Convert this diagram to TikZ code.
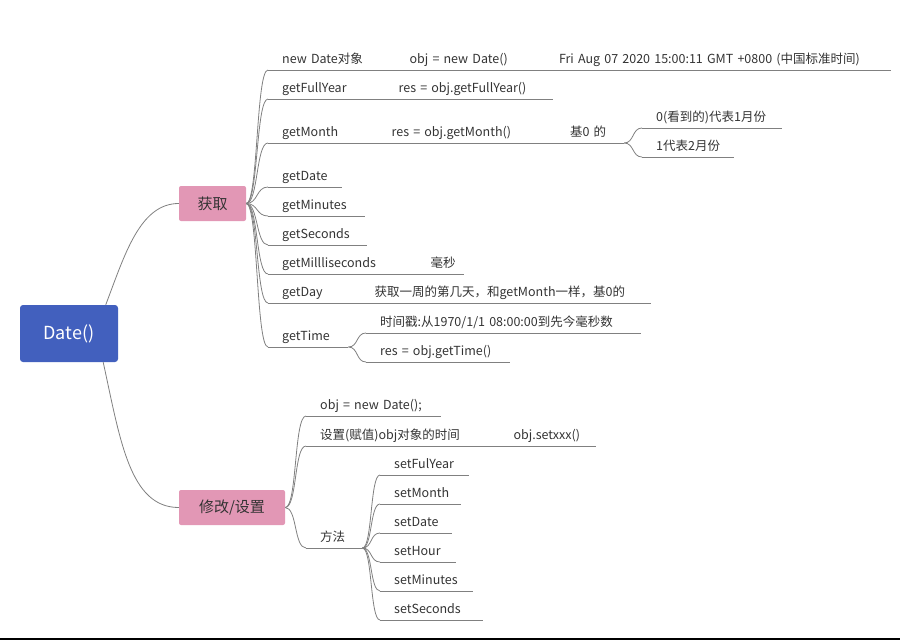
\documentclass[tikz,border=0pt]{standalone}
\usepackage{fontspec}
\setmainfont{Noto Sans CJK SC}
\definecolor{dateblue}{RGB}{66,96,190}
\definecolor{tagpink}{RGB}{226,151,181}
\definecolor{linegray}{RGB}{128,128,128}
\definecolor{txtgray}{RGB}{51,51,51}
\hyphenpenalty=10000

\begin{document}
\begin{tikzpicture}[x=1pt, y=-1pt,
    line/.style={draw=linegray, line width=0.8pt},
    topic/.style={anchor=south west, inner xsep=14pt, inner ysep=3pt, text height=9pt, text depth=3pt,
        align=left, text=txtgray, font=\fontsize{12.5}{14}\selectfont},
    tagbox/.style={fill=tagpink, rounded corners=2pt, text=txtgray, font=\fontsize{15}{18}\selectfont,
        minimum height=35pt, inner sep=0pt}]
    \useasboundingbox (0,0) rectangle (900,640);

    \node[fill=dateblue, rounded corners=3pt, text=white, font=\fontsize{18}{22}\selectfont,
        minimum width=98pt, minimum height=57pt, inner sep=0pt] (date) at (69,333.5) {Date()};
    \node[tagbox, minimum width=67pt] (huoqu) at (212.5,203.5) {获取};
    \node[tagbox, minimum width=106pt] (xg) at (232,507.5) {修改/设置};

    \draw[line] (date.38) .. controls +(19,-50) and +(-39,0) .. (huoqu.west);
    \draw[line] (date.-40) .. controls +(17,78) and +(-49,0) .. (xg.west);

    \node[topic, text width=99pt] (nd) at (268,70) {new Date对象};
    \node[topic, text width=121pt] (ndobj) at (nd.south east) {obj = new Date()};
    \node[topic, text width=318pt] (ndstr) at (ndobj.south east) {Fri Aug 07 2020 15:00:11 GMT +0800 (中国标准时间)};
    \node[topic, text width=88pt] (gfy) at (268,99) {getFullYear};
    \node[topic, text width=140pt] (gfyres) at (gfy.south east) {res = obj.getFullYear()};
    \node[topic, text width=81pt] (gm) at (268,143) {getMonth};
    \node[topic, text width=150pt] (gmres) at (gm.south east) {res = obj.getMonth()};
    \node[topic, text width=40pt] (gmj) at (gmres.south east) {基0 的};
    \node[topic, text width=112pt] (m0) at (642,128) {0(看到的)代表1月份};
    \node[topic, text width=64pt] (m1) at (642,157) {1代表2月份};
    \node[topic, text width=46pt] (gdt) at (268,187) {getDate};
    \node[topic, text width=69pt] (gmin) at (268,216) {getMinutes};
    \node[topic, text width=71pt] (gsec) at (268,245) {getSeconds};
    \node[topic, text width=120pt] (gms) at (268,274) {getMillliseconds};
    \node[topic, text width=19pt] (gmsh) at (gms.south east) {毫秒};
    \node[topic, text width=64pt] (gday) at (268,303) {getDay};
    \node[topic, text width=262pt] (gdayh) at (gday.south east) {获取一周的第几天，和getMonth一样，基0的};
    \node[topic, text width=52pt] (gtime) at (268,347) {getTime};
    \node[topic, text width=247pt] (t0) at (366,333) {时间戳:从1970/1/1 08:00:00到先今毫秒数};
    \node[topic, text width=116pt] (t1) at (366,362) {res = obj.getTime()};

    \node[topic, text width=107pt] (sa) at (306,416) {obj = new Date();};
    \node[topic, text width=165pt] (sb) at (306,446) {设置(赋值)obj对象的时间};
    \node[topic, text width=68pt] (sbx) at (sb.south east) {obj.setxxx()};
    \node[topic, text width=28pt] (sc) at (306,548) {方法};
    \node[topic, text width=61pt] (s1) at (380,475) {setFulYear};
    \node[topic, text width=53pt] (s2) at (380,504) {setMonth};
    \node[topic, text width=44pt] (s3) at (380,533) {setDate};
    \node[topic, text width=48pt] (s4) at (380,562) {setHour};
    \node[topic, text width=65pt] (s5) at (380,591) {setMinutes};
    \node[topic, text width=75pt] (s6) at (380,620) {setSeconds};

    \foreach \n in {nd,ndobj,ndstr,gfy,gfyres,gm,gmres,gmj,m0,m1,gdt,gmin,gsec,gms,gmsh,gday,gdayh,gtime,t0,t1,
        sa,sb,sbx,sc,s1,s2,s3,s4,s5,s6}
        \draw[line] (\n.south west) -- (\n.south east);

    \foreach \n in {nd,gfy,gm,gdt,gmin,gsec,gms,gday,gtime}
        \draw[line] (huoqu.east) .. controls +(12,0) and +(-12,0) .. (\n.south west);
    \foreach \n in {m0,m1}
        \draw[line] (gmj.south east) .. controls +(10,0) and +(-10,0) .. (\n.south west);
    \foreach \n in {t0,t1}
        \draw[line] (gtime.south east) .. controls +(10,0) and +(-10,0) .. (\n.south west);
    \foreach \n in {sa,sb,sc}
        \draw[line] (xg.east) .. controls +(12,0) and +(-12,0) .. (\n.south west);
    \foreach \n in {s1,s2,s3,s4,s5,s6}
        \draw[line] (sc.south east) .. controls +(10,0) and +(-10,0) .. (\n.south west);

    \draw[line width=2pt] (0,638.5) -- (900,638.5);
\end{tikzpicture}
\end{document}
